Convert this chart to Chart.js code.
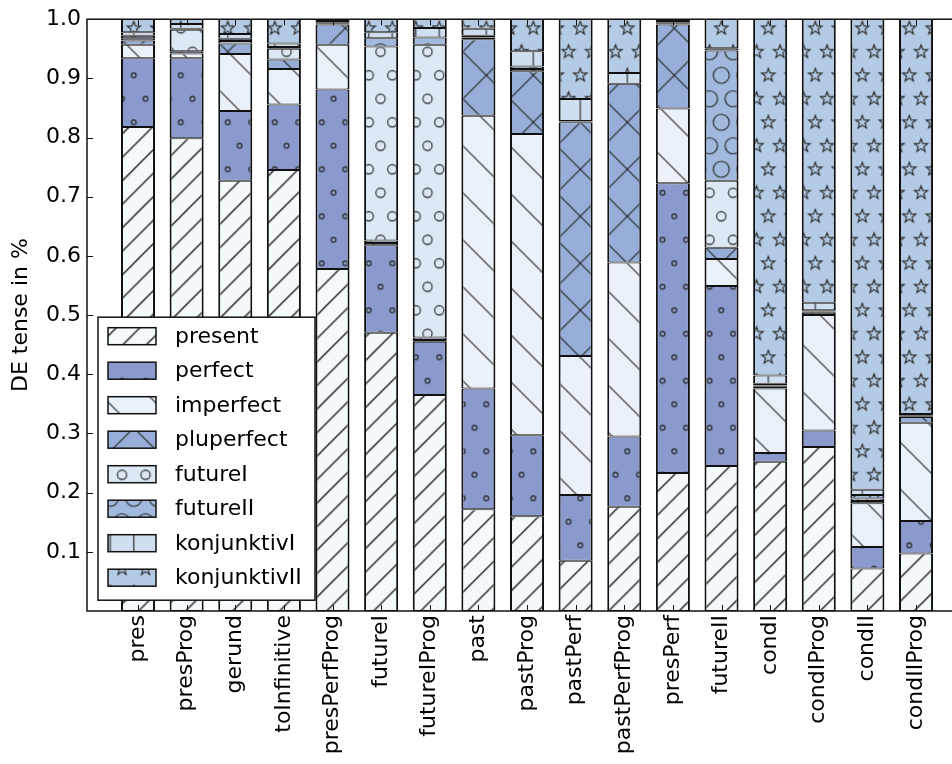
<!DOCTYPE html>
<html>
<head>
<meta charset="utf-8">
<script src="https://cdn.jsdelivr.net/npm/chart.js@4/dist/chart.umd.min.js"></script>
<style>
  html, body { margin: 0; padding: 0; background: #fff; overflow: hidden; }
  #wrap { width: 952px; height: 764px; }
</style>
</head>
<body>
<div id="wrap"><canvas id="tenseChart" width="952" height="764"></canvas></div>
<script>
const categories = ['pres', 'presProg', 'gerund', 'toInfinitive', 'presPerfProg', 'futureI', 'futureIProg',
    'past', 'pastProg', 'pastPerf', 'pastPerfProg', 'presPerf', 'futureII', 'condI', 'condIProg', 'condII', 'condIIProg'];

const yTickValues = [0.1, 0.2, 0.3, 0.4, 0.5, 0.6, 0.7, 0.8, 0.9, 1.0];

const present      = [0.818, 0.799, 0.727, 0.745, 0.578, 0.470, 0.365, 0.172, 0.160, 0.085, 0.176, 0.233, 0.245, 0.252, 0.277, 0.072, 0.097];
const perfect      = [0.116, 0.135, 0.118, 0.111, 0.303, 0.148, 0.090, 0.204, 0.137, 0.111, 0.119, 0.490, 0.304, 0.015, 0.028, 0.036, 0.055];
const imperfect    = [0.023, 0.008, 0.096, 0.060, 0.076, 0.004, 0.003, 0.461, 0.509, 0.235, 0.294, 0.126, 0.046, 0.109, 0.195, 0.074, 0.166];
const pluperfect   = [0.007, 0.004, 0.018, 0.016, 0.034, 0.004, 0.004, 0.129, 0.106, 0.395, 0.302, 0.142, 0.019, 0.003, 0.004, 0.004, 0.010];
const futureI      = [0.004, 0.036, 0.004, 0.018, 0.002, 0.328, 0.495, 0.003, 0.004, 0.001, 0.000, 0.002, 0.113, 0.002, 0.002, 0.004, 0.001];
const futureII     = [0.004, 0.002, 0.004, 0.003, 0.002, 0.014, 0.012, 0.003, 0.004, 0.001, 0.000, 0.002, 0.220, 0.003, 0.002, 0.006, 0.001];
const konjunktivI  = [0.006, 0.008, 0.008, 0.006, 0.002, 0.010, 0.016, 0.012, 0.026, 0.037, 0.018, 0.002, 0.004, 0.014, 0.013, 0.009, 0.003];
const konjunktivII = [0.022, 0.008, 0.025, 0.041, 0.003, 0.022, 0.015, 0.016, 0.054, 0.135, 0.091, 0.003, 0.049, 0.602, 0.479, 0.795, 0.667];

const FONT = '"DejaVu Sans", sans-serif';
const TILE = 47;
const HALF = TILE / 2;

// hatch tiles, roughly like matplotlib's hatch patterns
function makeHatch(fill, draw) {
    const c = document.createElement('canvas');
    c.width = TILE;
    c.height = TILE;
    const g = c.getContext('2d');
    g.fillStyle = fill;
    g.fillRect(0, 0, TILE, TILE);
    g.strokeStyle = '#222';
    g.lineWidth = 1.1;
    for (const dx of [-TILE, 0, TILE]) {
        for (const dy of [-TILE, 0, TILE]) {
            g.save();
            g.translate(dx, dy);
            draw(g);
            g.restore();
        }
    }
    const p = c.getContext('2d').createPattern(c, 'repeat');
    p.setTransform(new DOMMatrix().translate(16.3, 28.3));
    return p;
}

const lattice = [[0, 0], [HALF, 0], [HALF / 2, HALF], [HALF * 1.5, HALF]];

function line(g, x1, y1, x2, y2) {
    g.beginPath();
    g.moveTo(x1, y1);
    g.lineTo(x2, y2);
    g.stroke();
}

function circles(r) {
    return g => lattice.forEach(([x, y]) => {
        g.beginPath();
        g.arc(x, y, r, 0, Math.PI * 2);
        g.stroke();
    });
}

function stars(g) {
    lattice.forEach(([x, y]) => {
        g.beginPath();
        for (let k = 0; k < 10; k++) {
            const rad = k % 2 === 0 ? 7 : 2.9;
            const a = -Math.PI / 2 + k * Math.PI / 5;
            const px = x + rad * Math.cos(a), py = y + rad * Math.sin(a);
            if (k === 0) g.moveTo(px, py); else g.lineTo(px, py);
        }
        g.closePath();
        g.stroke();
    });
}

const fills = {
    present: makeHatch('#f4f9fb', g => {
        for (let k = 0; k < 4; k++) line(g, k * HALF, 0, k * HALF - TILE, TILE);
    }),
    perfect: makeHatch('#8b9acc', circles(2.4)),
    imperfect: makeHatch('#ebf1f9', g => line(g, 0, 0, TILE, TILE)),
    pluperfect: makeHatch('#96aed8', g => {
        line(g, 0, 0, TILE, TILE);
        line(g, 0, TILE, TILE, 0);
    }),
    futureI: makeHatch('#dce8f4', circles(4.6)),
    futureII: makeHatch('#a0b9dc', circles(8)),
    konjunktivI: makeHatch('#d0dfef', g => {
        line(g, 0, 0, 0, TILE);
        line(g, HALF, 0, HALF, TILE);
    }),
    konjunktivII: makeHatch('#b4cbe5', stars)
};

const series = [
    ['present', present], ['perfect', perfect], ['imperfect', imperfect], ['pluperfect', pluperfect],
    ['futureI', futureI], ['futureII', futureII], ['konjunktivI', konjunktivI], ['konjunktivII', konjunktivII]
];

const datasets = series.map(([name, values]) => ({
    label: name,
    data: values.map((v, i) => ({ x: i, y: v })),
    backgroundColor: fills[name],
    borderColor: '#111',
    borderWidth: { top: 1, bottom: 1, left: 2, right: 2 },
    borderSkipped: false,
    barPercentage: 0.7,
    categoryPercentage: 1.0
}));

// frame, inward ticks and the boxed legend
const frameAndLegend = {
    id: 'frameAndLegend',
    afterDatasetsDraw(chart) {
        const { ctx, chartArea: a, scales: { x, y } } = chart;
        ctx.save();
        ctx.strokeStyle = '#111';
        ctx.lineWidth = 1.5;
        ctx.beginPath();
        ctx.moveTo(a.right + 5, a.top);
        ctx.lineTo(a.left, a.top);
        ctx.lineTo(a.left, a.bottom);
        ctx.lineTo(a.right + 5, a.bottom);
        ctx.stroke();

        ctx.lineWidth = 1;
        ctx.beginPath();
        yTickValues.forEach(v => {
            const py = Math.round(y.getPixelForValue(v)) + 0.5;
            ctx.moveTo(a.left, py);
            ctx.lineTo(a.left + 6, py);
        });
        categories.forEach((c, i) => {
            const px = Math.round(x.getPixelForValue(i)) + 0.5;
            ctx.moveTo(px, a.top);
            ctx.lineTo(px, a.top + 6);
            ctx.moveTo(px, a.bottom);
            ctx.lineTo(px, a.bottom - 6);
        });
        ctx.stroke();

        // legend box
        const lx = a.left + 11, ly = a.top + 298, lw = 217, lh = 283;
        ctx.fillStyle = '#fff';
        ctx.fillRect(lx, ly, lw, lh);
        ctx.lineWidth = 1.5;
        ctx.strokeStyle = '#111';
        ctx.strokeRect(lx, ly, lw, lh);
        ctx.font = '22px ' + FONT;
        ctx.textBaseline = 'middle';
        ctx.textAlign = 'left';
        series.forEach(([name], i) => {
            const cy = ly + 19 + i * 34.5;
            ctx.fillStyle = fills[name];
            ctx.fillRect(lx + 10, cy - 8.5, 48, 17);
            ctx.strokeRect(lx + 10, cy - 8.5, 48, 17);
            ctx.fillStyle = '#000';
            ctx.fillText(name, lx + 77, cy + 1);
        });
        ctx.restore();
    }
};

Chart.defaults.font.family = FONT;

new Chart(document.getElementById('tenseChart').getContext('2d'), {
    type: 'bar',
    data: { datasets: datasets },
    plugins: [frameAndLegend],
    options: {
        responsive: false,
        devicePixelRatio: 1,
        animation: false,
        layout: { padding: { top: 18, left: 0, right: 0, bottom: 0 } },
        plugins: { legend: { display: false }, tooltip: { enabled: false } },
        scales: {
            x: {
                type: 'linear',
                stacked: true,
                offset: false,
                bounds: 'data',
                min: -1.049,
                max: 16.74,
                grid: { display: false, drawTicks: false, offset: false },
                border: { display: false },
                afterBuildTicks: axis => { axis.ticks = categories.map((c, i) => ({ value: i })); },
                afterFit: axis => { axis.height = 153; },
                ticks: {
                    autoSkip: false,
                    maxRotation: 90,
                    minRotation: 90,
                    padding: 4,
                    color: '#000',
                    font: { size: 22 },
                    callback: v => categories[v]
                }
            },
            y: {
                stacked: true,
                min: 0,
                max: 1,
                grid: { display: false, drawTicks: false },
                border: { display: false },
                afterBuildTicks: axis => { axis.ticks = yTickValues.map(v => ({ value: v })); },
                afterFit: axis => { axis.width = 87; },
                ticks: {
                    padding: 6,
                    color: '#000',
                    font: { size: 22 },
                    callback: v => v.toFixed(1)
                },
                title: {
                    display: true,
                    text: 'DE tense in %',
                    color: '#000',
                    font: { size: 22 },
                    padding: { top: 8, bottom: 0 }
                }
            }
        }
    }
});
</script>
</body>
</html>
